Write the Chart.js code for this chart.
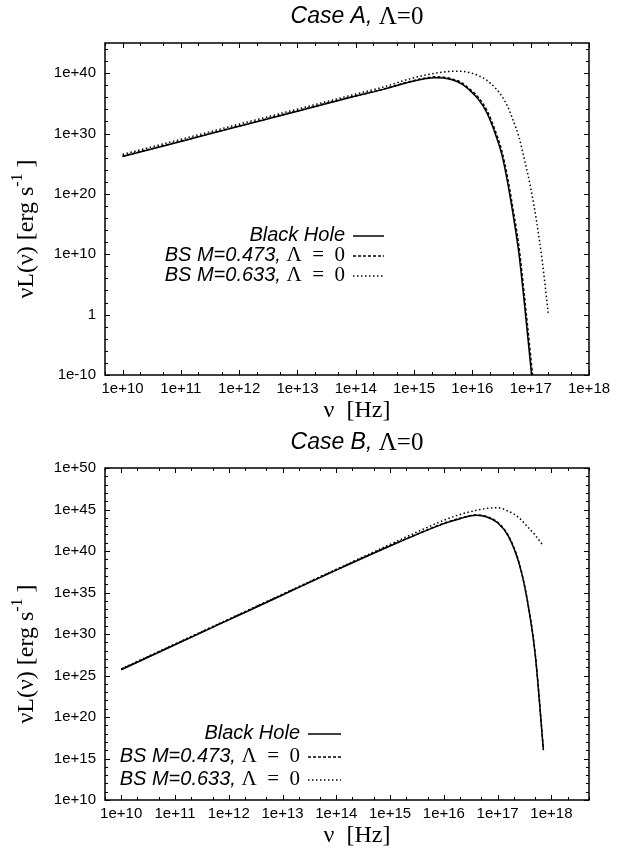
<!DOCTYPE html>
<html>
<head>
<meta charset="utf-8">
<script src="https://cdn.jsdelivr.net/npm/chart.js@4.4.0/dist/chart.umd.min.js"></script>
<style>
  html, body { margin: 0; padding: 0; background: #fff; }
  canvas { display: block; }
</style>
</head>
<body>
<canvas id="chartA" width="625" height="426"></canvas>
<canvas id="chartB" width="625" height="425"></canvas>
<script>
// ---- Case A ----
const freqA = [1e10, 1e11, 1e12, 1e13, 1e14, 3.2e14, 6.3e14, 1e15, 1.6e15, 2.2e15, 3.2e15, 4.5e15, 6.3e15, 8.9e15,
               1.26e16, 1.78e16, 2.5e16, 3.2e16, 4e16, 5e16, 6.3e16, 7.9e16, 1e17, 1.26e17, 1.58e17, 2e17];
const blackHoleA = [1.6e26, 5e28, 1.6e31, 5e33, 1.6e36, 2.5e37, 1.6e38, 5e38, 1.26e39, 1.8e39, 1.6e39, 7.9e38, 2e38, 1.6e37,
                    5e35, 2.5e33, 6.3e29, 3.2e26, 1e22, 3.2e16, 1e10, 20, 3.2e-9, 1e-19, 1e-32, 1e-48];
const bs473A = [1.78e26, 5.6e28, 1.78e31, 5.6e33, 1.78e36, 2.8e37, 2e38, 6.3e38, 1.6e39, 2.5e39, 2.2e39, 1.1e39, 3.2e38, 2.5e37,
                1e36, 6.3e33, 2e30, 1.26e27, 6.3e22, 2.5e17, 1.6e11, 400, 1e-7, 1e-17, 1e-30, 1e-45];
const bs633A = [3.5e26, 1.1e29, 3.5e31, 1.1e34, 3.5e36, 6.3e37, 5e38, 1.8e39, 5e39, 8.9e39, 1.6e40, 2e40, 2e40, 1.26e40,
                4e39, 6.3e38, 3.2e37, 1.6e36, 3.2e34, 1.6e32, 2.5e29, 3.2e25, 1e21, 3.2e15, 6.3e8, 2];

// ---- Case B ----
const freqB = [1e10, 1e11, 1e12, 1e13, 1e14, 1e15, 3.2e15, 1e16, 2e16, 4e16, 6.3e16, 1e17, 1.58e17, 2.5e17, 3.5e17, 5e17, 7.1e17];
const blackHoleB = [5e25, 5e28, 5e31, 5e34, 5e37, 4e40, 1e42, 2e43, 7.9e43, 2e44, 1.26e44, 2.5e43, 6.3e41, 3.2e38, 2e34, 3.2e27, 1e16];
const bs473B = [5.6e25, 5.6e28, 5.6e31, 5.6e34, 5.6e37, 4.5e40, 1.1e42, 2.2e43, 8.9e43, 2.2e44, 1.4e44, 2.8e43, 7.1e41, 4e38, 2.5e34, 4e27, 1.3e16];
const bs633B = [6.3e25, 6.3e28, 6.3e31, 6.3e34, 6.3e37, 6.3e40, 2e42, 5e43, 2.5e44, 7.9e44, 1.4e45, 1.6e45, 6.3e44, 1e44, 1e43, 7.9e41, 4e40];

// ---- axes ----
const xTicks = [1e10, 1e11, 1e12, 1e13, 1e14, 1e15, 1e16, 1e17, 1e18];
const yTicksA = [1e-10, 1, 1e10, 1e20, 1e30, 1e40];
const yTicksB = [1e10, 1e15, 1e20, 1e25, 1e30, 1e35, 1e40, 1e45, 1e50];
const seriesLabels = ['Black Hole', 'BS M=0.473, ', 'BS M=0.633, '];

const SANS = '"Liberation Sans", Arial, sans-serif';
const SERIF = '"Liberation Serif", "Times New Roman", serif';

function minorsLog(lo, hi, mult, stepDec) {
  const out = [];
  for (let e = lo; e <= hi; e += stepDec) {
    mult.forEach(m => out.push(m * Math.pow(10, e)));
  }
  return out;
}

function tickFmt(v) {
  const e = Math.round(Math.log10(v));
  if (e === 0) return '1';
  return '1e' + (e > 0 ? '+' : '') + e;
}

const frame = {
  id: 'frame',
  afterDraw(chart, args, o) {
    const { ctx, chartArea: a } = chart;
    const x = chart.scales.x, y = chart.scales.y;
    ctx.save();
    ctx.strokeStyle = '#000';
    ctx.lineWidth = 1;
    const xm = (vals, len) => vals.forEach(v => {
      const p = Math.round(x.getPixelForValue(v)) + 0.5;
      if (p < a.left || p > a.right + 1) return;
      ctx.beginPath();
      ctx.moveTo(p, a.bottom); ctx.lineTo(p, a.bottom - len);
      ctx.moveTo(p, a.top); ctx.lineTo(p, a.top + len);
      ctx.stroke();
    });
    const ym = (vals, len) => vals.forEach(v => {
      const p = Math.round(y.getPixelForValue(v)) + 0.5;
      if (p < a.top || p > a.bottom + 1) return;
      ctx.beginPath();
      ctx.moveTo(a.left, p); ctx.lineTo(a.left + len, p);
      ctx.moveTo(a.right, p); ctx.lineTo(a.right - len, p);
      ctx.stroke();
    });
    xm(o.xMajor, 5); xm(o.xMinor, 3);
    ym(o.yMajor, 5); ym(o.yMinor, 3);
    ctx.lineWidth = 1.5;
    ctx.strokeRect(a.left, a.top, a.right - a.left, a.bottom - a.top);

    ctx.fillStyle = '#000';
    ctx.textBaseline = 'middle';
    const cx = (a.left + a.right) / 2;

    // title: italic sans + serif greek
    ctx.font = 'italic 23px ' + SANS;
    const t1 = o.title + ', ';
    const w1 = ctx.measureText(t1).width;
    ctx.font = '25px ' + SERIF;
    const w2 = ctx.measureText('Λ=0').width;
    let tx = cx + 10 - (w1 + w2) / 2;
    ctx.textAlign = 'left';
    ctx.font = 'italic 23px ' + SANS;
    ctx.fillText(t1, tx, 17);
    ctx.font = '25px ' + SERIF;
    ctx.fillText('Λ=0', tx + w1, 17);

    // x title
    ctx.textAlign = 'center';
    ctx.font = '24px ' + SERIF;
    ctx.fillText('ν  [Hz]', cx + 10, a.bottom + 36);

    // y title, rotated
    ctx.save();
    ctx.translate(27, (a.top + a.bottom) / 2 + 20);
    ctx.rotate(-Math.PI / 2);
    const parts = [['νL(ν) [erg s', '24px ' + SERIF, 0], ['-1', '16px ' + SERIF, -9], [' ]', '24px ' + SERIF, 0]];
    let tw = 0;
    parts.forEach(p => { ctx.font = p[1]; tw += ctx.measureText(p[0]).width; });
    let px = -tw / 2;
    ctx.textAlign = 'left';
    parts.forEach(p => { ctx.font = p[1]; ctx.fillText(p[0], px, p[2]); px += ctx.measureText(p[0]).width; });
    ctx.restore();

    // legend
    const L = o.legend;
    chart.data.datasets.forEach((ds, i) => {
      const ly = L.y + i * L.dy;
      ctx.textAlign = 'left';
      ctx.font = 'italic 20px ' + SANS;
      const wl = ctx.measureText(ds.label).width;
      let wg = 0;
      const greek = 'Λ  =  0';
      if (i > 0) { ctx.font = '21px ' + SERIF; wg = ctx.measureText(greek).width; }
      const sx = L.right - wl - wg;
      ctx.font = 'italic 20px ' + SANS;
      ctx.fillText(ds.label, sx, ly);
      if (i > 0) { ctx.font = '21px ' + SERIF; ctx.fillText(greek, sx + wl, ly); }
      ctx.beginPath();
      ctx.setLineDash(ds.borderDash || []);
      ctx.lineWidth = ds.borderWidth;
      ctx.moveTo(L.right + 8, ly + 1);
      ctx.lineTo(L.right + 8 + L.len, ly + 1);
      ctx.stroke();
      ctx.setLineDash([]);
    });
    ctx.restore();
  }
};

function makeChart(id, freq, series, xMax, yMin, yMax, yTicks, yMinor, title, legend, padTop, xH) {
  const styles = [
    { borderDash: [], borderWidth: 1.5 },
    { borderDash: [3, 2], borderWidth: 1.5 },
    { borderDash: [1.5, 2.5], borderWidth: 1.5 }
  ];
  const datasets = series.map((vals, i) => ({
    label: seriesLabels[i],
    data: freq.map((f, k) => ({ x: f, y: vals[k] })),
    borderColor: '#000',
    borderWidth: styles[i].borderWidth,
    borderDash: styles[i].borderDash,
    pointRadius: 0,
    fill: false,
    cubicInterpolationMode: 'monotone'
  }));
  return new Chart(document.getElementById(id), {
    type: 'line',
    data: { datasets },
    plugins: [frame],
    options: {
      responsive: false,
      animation: false,
      layout: { padding: { left: 0, right: 36, top: padTop, bottom: 0 } },
      plugins: {
        legend: { display: false },
        tooltip: { enabled: false },
        frame: {
          title, legend,
          xMajor: xTicks,
          xMinor: minorsLog(9, 18, [2, 5], 1),
          yMajor: yTicks,
          yMinor
        }
      },
      scales: {
        x: {
          type: 'logarithmic', min: 5e9, max: xMax,
          afterBuildTicks: s => { s.ticks = xTicks.filter(v => v <= xMax).map(v => ({ value: v })); },
          afterFit: s => { s.height = xH; },
          ticks: { callback: tickFmt, color: '#000', font: { family: SANS, size: 15 }, maxRotation: 0, autoSkip: false, padding: 5 },
          grid: { display: false, drawTicks: false },
          border: { display: false }
        },
        y: {
          type: 'logarithmic', min: yMin, max: yMax,
          afterBuildTicks: s => { s.ticks = yTicks.map(v => ({ value: v })); },
          afterFit: s => { s.width = 105; },
          ticks: { callback: tickFmt, color: '#000', font: { family: SANS, size: 15 }, autoSkip: false, padding: 9 },
          grid: { display: false, drawTicks: false },
          border: { display: false }
        }
      }
    }
  });
}

makeChart('chartA', freqA, [blackHoleA, bs473A, bs633A], 1e18, 1e-10, 1e45, yTicksA,
  minorsLog(-10, 44, [1], 2),
  'Case A', { right: 345, y: 235, dy: 20, len: 31 }, 43, 51);

makeChart('chartB', freqB, [blackHoleB, bs473B, bs633B], 5e18, 1e10, 1e50, yTicksB,
  minorsLog(10, 50, [1], 1),
  'Case B', { right: 300, y: 307, dy: 23, len: 33 }, 42, 51);
</script>
</body>
</html>
